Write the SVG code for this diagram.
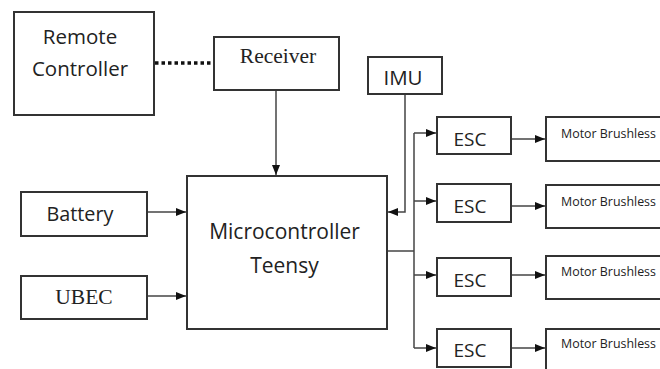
<svg xmlns="http://www.w3.org/2000/svg" width="660" height="369" viewBox="0 0 660 369">
<style>
.box{fill:#fff;stroke:#333;stroke-width:2}
.ln{fill:none;stroke:#444;stroke-width:1.5}
.s{font-family:"Open Sans","Liberation Sans",sans-serif;fill:#222;text-anchor:middle}
.r{font-family:"Liberation Serif",serif;fill:#222;text-anchor:middle}
</style>
<defs>
<marker id="ah" markerWidth="10" markerHeight="8" refX="10" refY="4" orient="auto" markerUnits="userSpaceOnUse">
<path d="M0,0 L10,4 L0,8 Z" fill="#111"/>
</marker>
</defs>
<rect width="660" height="369" fill="#fff"/>
<g id="connectors">
<line x1="155" y1="63" x2="213" y2="63" stroke="#111" stroke-width="3.5" stroke-dasharray="3.5 3"/>
<line class="ln" x1="276" y1="90" x2="276" y2="175" marker-end="url(#ah)"/>
<line class="ln" x1="147" y1="212" x2="186" y2="212" marker-end="url(#ah)"/>
<line class="ln" x1="147" y1="296" x2="186" y2="296" marker-end="url(#ah)"/>
<polyline class="ln" points="405,94 405,212 388,212" marker-end="url(#ah)"/>
<polyline class="ln" points="387,251 414,251"/>
<line class="ln" x1="414" y1="133" x2="414" y2="348"/>
<line class="ln" x1="414" y1="133" x2="436" y2="133" marker-end="url(#ah)"/>
<line class="ln" x1="414" y1="201" x2="436" y2="201" marker-end="url(#ah)"/>
<line class="ln" x1="414" y1="275" x2="436" y2="275" marker-end="url(#ah)"/>
<line class="ln" x1="414" y1="348" x2="436" y2="348" marker-end="url(#ah)"/>
<line class="ln" x1="511" y1="139" x2="545" y2="139" marker-end="url(#ah)"/>
<line class="ln" x1="511" y1="206" x2="545" y2="206" marker-end="url(#ah)"/>
<line class="ln" x1="511" y1="275" x2="545" y2="275" marker-end="url(#ah)"/>
<line class="ln" x1="511" y1="348" x2="545" y2="348" marker-end="url(#ah)"/>
</g>
<g id="remote"><rect class="box" x="14" y="12" width="140" height="103"/>
<text class="s" x="80" y="44" font-size="20.5">Remote</text>
<text class="s" x="80" y="76" font-size="20.5">Controller</text></g>
<g id="receiver"><rect class="box" x="214" y="37" width="125" height="53"/>
<text class="r" x="278" y="63" font-size="21.5">Receiver</text></g>
<g id="imu"><rect class="box" x="368" y="57" width="74" height="37"/>
<text class="s" x="403" y="85" font-size="20.5">IMU</text></g>
<g id="battery"><rect class="box" x="21" y="192" width="126" height="44"/>
<text class="s" x="80" y="221" font-size="19.8">Battery</text></g>
<g id="ubec"><rect class="box" x="21" y="276" width="126" height="43"/>
<text class="r" x="84" y="304" font-size="21.5">UBEC</text></g>
<g id="micro"><rect class="box" x="187" y="176" width="200" height="153"/>
<text class="s" x="284.5" y="239" font-size="21">Microcontroller</text>
<text class="s" x="284.5" y="273" font-size="21">Teensy</text></g>
<g id="esc1"><rect class="box" x="437" y="117" width="74" height="37"/>
<text class="s" x="470" y="146" font-size="19">ESC</text></g>
<g id="esc2"><rect class="box" x="437" y="184" width="74" height="38"/>
<text class="s" x="470" y="213" font-size="19">ESC</text></g>
<g id="esc3"><rect class="box" x="437" y="258" width="74" height="38"/>
<text class="s" x="470" y="287" font-size="19">ESC</text></g>
<g id="esc4"><rect class="box" x="437" y="329" width="74" height="38"/>
<text class="s" x="470" y="357" font-size="19">ESC</text></g>
<g id="motor1"><rect class="box" x="546" y="117" width="120" height="44"/>
<text class="s" x="608.5" y="138" font-size="12.4">Motor Brushless</text></g>
<g id="motor2"><rect class="box" x="546" y="185" width="120" height="43"/>
<text class="s" x="608.5" y="206" font-size="12.4">Motor Brushless</text></g>
<g id="motor3"><rect class="box" x="546" y="256" width="120" height="43"/>
<text class="s" x="608.5" y="276" font-size="12.4">Motor Brushless</text></g>
<g id="motor4"><rect class="box" x="546" y="329" width="120" height="44"/>
<text class="s" x="608.5" y="348" font-size="12.4">Motor Brushless</text></g>
</svg>
